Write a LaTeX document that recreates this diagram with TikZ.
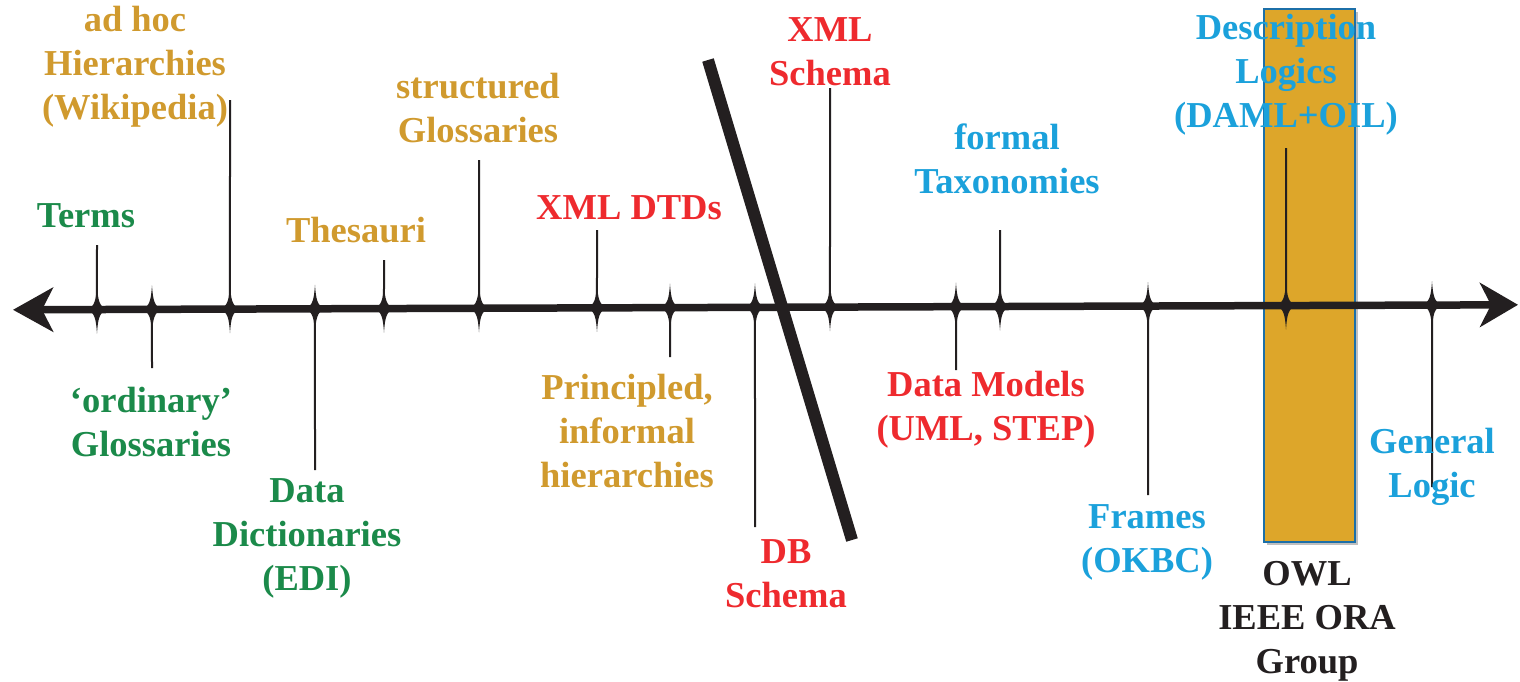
\documentclass[tikz,border=0pt]{standalone}
\usepackage{fontspec}
\setmainfont{Liberation Serif}
\usetikzlibrary{arrows.meta,calc}
\definecolor{cgreen}{HTML}{1B8A4A}
\definecolor{cgold}{HTML}{D09A2E}
\definecolor{cred}{HTML}{EE2A2E}
\definecolor{cblue}{HTML}{1BA1DB}
\definecolor{cblack}{HTML}{231F20}
\definecolor{corange}{HTML}{DDA62A}
\definecolor{cborder}{HTML}{1C6FA8}
\tikzset{
  lbl/.style={align=center, inner sep=0pt, font=\fontsize{36.5}{44}\selectfont\bfseries},
  green/.style={lbl, text=cgreen},
  gold/.style={lbl, text=cgold},
  red/.style={lbl, text=cred},
  blue/.style={lbl, text=cblue},
  dark/.style={lbl, text=cblack},
  stem/.style={draw=cblack, line width=2pt},
  spike/.pic={\fill[cblack] (0,-24) .. controls (1,-10) and (2,-3) .. (10,0)
      .. controls (2,3) and (1,10) .. (0,24)
      .. controls (-1,10) and (-2,3) .. (-10,0)
      .. controls (-2,-3) and (-1,-10) .. (0,-24) -- cycle;}
}
\newcommand{\mytick}[3]{%
  \coordinate (#1) at ($(L)!{(#2-13)/1505}!(R)$);
  \coordinate (#1e) at (#2,#3);
  \draw[stem] (#1) -- (#1e);
  \pic at (#1) {spike};
}
\begin{document}
\begin{tikzpicture}[x=1pt,y=-1pt]
\useasboundingbox (0,0) rectangle (1520,681);
% highlight band
\fill[black!25] (1267,12) rectangle (1358,545);
\node[draw=cborder, line width=1.5pt, fill=corange, minimum width=91pt, minimum height=533pt, inner sep=0pt, anchor=north west] (band) at (1263,8) {};
% axis
\coordinate (L) at (13,309.8);
\coordinate (R) at (1518,304.8);
\draw[cblack, line width=7.5pt, {Stealth[length=40pt,width=44pt,inset=11pt]}-{Stealth[length=38pt,width=44pt,inset=11pt]}] (L) -- (R);
% ticks
\mytick{t1}{97}{245}
\mytick{t2}{152}{368}
\mytick{t3}{230}{100}
\mytick{t4}{315}{470}
\mytick{t5}{384}{260}
\mytick{t6}{479}{160}
\mytick{t7}{597}{230}
\mytick{t8}{670}{357}
\mytick{t9}{755}{527}
\mytick{t10}{830}{88}
\mytick{t11}{956}{370}
\mytick{t12}{1000}{230}
\mytick{t13}{1148}{495}
\mytick{t14}{1286}{148}
\mytick{t15}{1432}{487}
% divider
\coordinate (s1) at (708,60);
\coordinate (s2) at (852,540);
\draw[cblack, line width=12pt] (s1) -- (s2);
% labels
\node[green] (terms) at (86,216) {Terms};
\node[green] (ordg) at (151,422) {‘ordinary’\\Glossaries};
\node[gold] (adhoc) at (135,67) {ad hoc\\Hierarchies\\(Wikipedia)};
\node[green] (dd) at (307,538) {Data\\Dictionaries\\(EDI)};
\node[gold] (thes) at (356,230) {Thesauri};
\node[gold] (sg) at (478,108) {structured\\Glossaries};
\node[red] (dtd) at (629,208) {XML DTDs};
\node[gold] (pih) at (627,431) {Principled,\\informal\\hierarchies};
\node[red] (db) at (786,574) {DB\\Schema};
\node[red] (xs) at (830,52) {XML\\Schema};
\node[blue] (ft) at (1007,159) {formal\\Taxonomies};
\node[red] (dm) at (986,410) {Data Models\\(UML, STEP)};
\node[blue] (fr) at (1147,542) {Frames\\(OKBC)};
\node[blue] (dl) at (1286,75) {Description\\Logics\\(DAML+OIL)};
\node[dark] (owl) at (1307,621) {OWL\\IEEE ORA\\Group};
\node[blue] (gl) at (1432,467) {General\\Logic};
\end{tikzpicture}
\end{document}
